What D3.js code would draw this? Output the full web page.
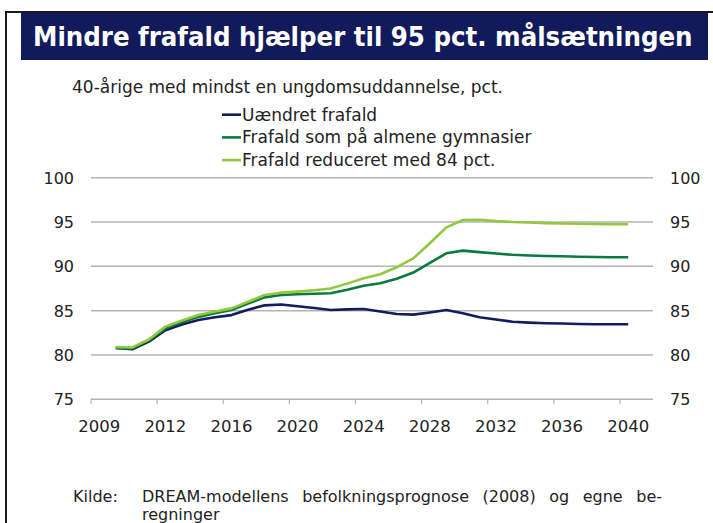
<!DOCTYPE html>
<html>
<head>
<meta charset="utf-8">
<script src="https://cdn.jsdelivr.net/npm/d3@7"></script>
<style>
  body { margin: 0; background: #fff; }
  text { font-family: "DejaVu Sans", Verdana, sans-serif; fill: #222; }
</style>
</head>
<body>
<div id="chart"></div>
<script>
// Data
var years = d3.range(2009, 2041);
var uaendret = [80.8, 80.65, 81.5, 82.8, 83.45, 83.95, 84.25, 84.5, 85.1, 85.6, 85.7, 85.5, 85.3, 85.07, 85.15, 85.19,
  84.9, 84.62, 84.55, 84.8, 85.07, 84.7, 84.25, 84.0, 83.75, 83.65, 83.58, 83.55, 83.5, 83.47, 83.47, 83.46];
var almene = [80.8, 80.75, 81.65, 83.0, 83.7, 84.3, 84.7, 85.07, 85.8, 86.5, 86.77, 86.85, 86.9, 86.96, 87.35, 87.8,
  88.1, 88.6, 89.3, 90.4, 91.47, 91.77, 91.6, 91.45, 91.3, 91.22, 91.17, 91.13, 91.08, 91.05, 91.03, 91.02];
var reduceret = [80.9, 80.85, 81.75, 83.2, 83.9, 84.5, 84.9, 85.26, 86.0, 86.77, 87.03, 87.15, 87.3, 87.5, 88.05, 88.65,
  89.1, 89.9, 90.9, 92.6, 94.4, 95.23, 95.25, 95.1, 95.0, 94.95, 94.88, 94.84, 94.8, 94.77, 94.75, 94.74];

var seriesNames = ["Uændret frafald", "Frafald som på almene gymnasier", "Frafald reduceret med 84 pct."];
var seriesColors = ["#141b5e", "#0b7a3e", "#92c83e"];
var yTicks = [75, 80, 85, 90, 95, 100];
var xTickPos = [2008, 2012, 2016, 2020, 2024, 2028, 2032, 2036, 2040];
var xTickLabels = ["2009", "2012", "2016", "2020", "2024", "2028", "2032", "2036", "2040"];

var svgWidth = 713;
var svgHeight = 523;

var svg = d3.select("#chart")
  .append("svg")
  .attr("width", svgWidth)
  .attr("height", svgHeight);

// frame
svg.append("path")
  .attr("d", "M6,523 L6,12 L713,12")
  .attr("fill", "none")
  .attr("stroke", "#1a1a1a")
  .attr("stroke-width", 2);

// title box
svg.append("rect")
  .attr("x", 21).attr("y", 13)
  .attr("width", 687).attr("height", 47)
  .attr("fill", "#121a5c");

var title = svg.append("text")
  .attr("x", 33).attr("y", 46)
  .style("font-family", "'DejaVu Sans Condensed', 'DejaVu Sans', sans-serif")
  .style("font-weight", "bold")
  .style("font-size", "25px")
  .style("fill", "#fff")
  .text("Mindre frafald hjælper til 95 pct. målsætningen");
// fit title width to reference
var tw = title.node().getComputedTextLength();
title.style("font-size", (25 * 660 / tw) + "px");

svg.append("text")
  .attr("x", 72).attr("y", 93)
  .style("font-size", "17px")
  .text("40-årige med mindst en ungdomsuddannelse, pct.");

// scales
var x = d3.scaleLinear().domain([2007.5, 2041.5]).range([91, 653]);
var y = d3.scaleLinear().domain([75, 100]).range([399.3, 177.7]);

var chartGroup = svg.append("g");

// gridlines
chartGroup.selectAll(".grid")
  .data(yTicks)
  .enter()
  .append("line")
  .attr("x1", x(2007.5)).attr("x2", x(2041.5))
  .attr("y1", d => y(d)).attr("y2", d => y(d))
  .attr("stroke", "#b4b4b4")
  .attr("stroke-width", 1.5);

// x tick marks
chartGroup.selectAll(".xtick")
  .data(d3.range(2007.5, 2041.5, 4))
  .enter()
  .append("line")
  .attr("x1", d => x(d)).attr("x2", d => x(d))
  .attr("y1", y(75)).attr("y2", y(75) + 5)
  .attr("stroke", "#b4b4b4")
  .attr("stroke-width", 1.2);

// x labels
chartGroup.selectAll(".xlabel")
  .data(xTickPos)
  .enter()
  .append("text")
  .attr("x", d => x(d))
  .attr("y", 432)
  .attr("text-anchor", "middle")
  .style("font-size", "16.5px")
  .text((d, i) => xTickLabels[i]);

// y labels left and right
chartGroup.selectAll(".ylabelL")
  .data(yTicks)
  .enter()
  .append("text")
  .attr("x", 74)
  .attr("y", d => y(d) + 6)
  .attr("text-anchor", "end")
  .style("font-size", "16px")
  .text(d => d);

chartGroup.selectAll(".ylabelR")
  .data(yTicks)
  .enter()
  .append("text")
  .attr("x", 670)
  .attr("y", d => y(d) + 6)
  .style("font-size", "16px")
  .text(d => d);

// lines
var allSeries = [uaendret, almene, reduceret];
var line = d3.line()
  .x((d, i) => x(years[i]))
  .y(d => y(d));

chartGroup.selectAll(".series")
  .data(allSeries)
  .enter()
  .append("path")
  .attr("d", d => line(d))
  .attr("fill", "none")
  .attr("stroke", (d, i) => seriesColors[i])
  .attr("stroke-width", 2.6)
  .attr("stroke-linejoin", "round");

// legend
var legend = svg.append("g");
seriesNames.forEach(function(name, i) {
  var cy = 114.7 + i * 22.7;
  legend.append("line")
    .attr("x1", 222).attr("x2", 241)
    .attr("y1", cy).attr("y2", cy)
    .attr("stroke", seriesColors[i])
    .attr("stroke-width", 2.6);
  legend.append("text")
    .attr("x", 242).attr("y", cy + 6)
    .style("font-size", "17px")
    .text(name);
});

// source note
svg.append("text")
  .attr("x", 73).attr("y", 502)
  .style("font-size", "16px")
  .text("Kilde:");

var src = svg.append("text")
  .attr("x", 142).attr("y", 502)
  .style("font-size", "16px")
  .text("DREAM-modellens befolkningsprognose (2008) og egne be-");
var sw = src.node().getComputedTextLength();
src.style("word-spacing", Math.max(0, (520 - sw) / 5) + "px");

svg.append("text")
  .attr("x", 142).attr("y", 520)
  .style("font-size", "16px")
  .text("regninger");
</script>
</body>
</html>
